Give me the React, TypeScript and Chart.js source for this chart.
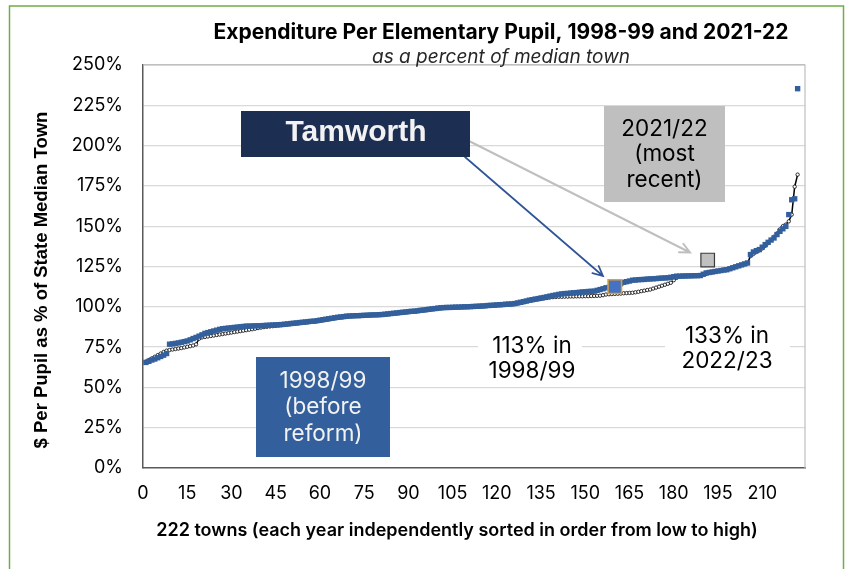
import { useEffect, useRef } from "react";
import { Chart, registerables } from "chart.js";

Chart.register(...registerables);

// 2021/22 expenditure per elementary pupil, % of state median town, towns sorted low -> high
const values2021 = [
  65.5, 66.2, 67.0, 67.6, 68.4, 69.2, 70.0, 71.0, 76.8, 77.0,
  77.3, 77.6, 78.0, 78.4, 78.8, 79.5, 80.3, 81.0, 81.8, 82.6,
  83.5, 84.0, 84.5, 85.0, 85.5, 86.0, 86.4, 86.6, 86.8, 87.0,
  87.2, 87.4, 87.6, 87.8, 88.0, 88.0, 88.1, 88.2, 88.2, 88.3,
  88.4, 88.5, 88.6, 88.7, 88.8, 88.9, 89.0, 89.2, 89.4, 89.6,
  89.8, 90.0, 90.2, 90.4, 90.6, 90.8, 91.0, 91.1, 91.4, 91.7,
  92.0, 92.3, 92.6, 92.9, 93.2, 93.5, 93.7, 93.9, 94.2, 94.3,
  94.4, 94.5, 94.5, 94.6, 94.7, 94.8, 94.9, 95.0, 95.0, 95.1,
  95.2, 95.4, 95.6, 95.8, 96.0, 96.2, 96.4, 96.6, 96.8, 97.0,
  97.2, 97.3, 97.5, 97.8, 98.0, 98.2, 98.5, 98.7, 98.9, 99.2,
  99.4, 99.5, 99.6, 99.6, 99.7, 99.8, 99.8, 99.9, 100.0, 100.0,
  100.1, 100.2, 100.3, 100.4, 100.5, 100.6, 100.8, 100.9, 101.0, 101.2,
  101.3, 101.4, 101.6, 101.7, 101.8, 102.0, 102.4, 102.8, 103.2, 103.6,
  104.1, 104.4, 104.8, 105.1, 105.5, 105.8, 106.2, 106.6, 107.0, 107.3,
  107.7, 108.0, 108.2, 108.3, 108.5, 108.7, 108.8, 109.0, 109.2, 109.3,
  109.5, 109.6, 109.7, 110.2, 110.7, 111.2, 111.8, 112.0, 112.2, 112.4,
  113.5, 114.4, 115.2, 115.6, 116.0, 116.5, 116.6, 116.8, 116.9, 117.0,
  117.2, 117.3, 117.4, 117.5, 117.7, 117.8, 117.9, 118.0, 118.3, 118.7,
  119.0, 119.0, 119.1, 119.1, 119.2, 119.2, 119.3, 119.3, 119.4, 120.2,
  121.0, 121.3, 121.6, 121.9, 122.2, 122.5, 122.8, 123.0, 123.6, 124.2,
  124.8, 125.4, 126.0, 126.6, 127.2, 132.4, 134.0, 134.8, 135.5, 137.0,
  138.6, 140.0, 141.4, 142.7, 144.8, 146.8, 148.4, 149.9, 157.2, 166.4,
  167.0, 235.3,
];

// 1998/99 (before reform)
const values1998 = [
  66.0, 67.0, 68.0, 69.0, 70.0, 71.0, 72.0, 72.8, 73.2, 73.5,
  73.8, 74.1, 74.4, 74.8, 75.2, 75.6, 76.0, 76.7, 80.2, 81.0,
  81.3, 81.6, 81.9, 82.2, 82.5, 82.8, 83.1, 83.4, 83.7, 84.0,
  84.3, 84.6, 84.9, 85.2, 85.5, 85.8, 86.1, 86.4, 86.8, 87.1,
  87.4, 87.6, 87.8, 88.0, 88.2, 88.4, 88.6, 88.8, 89.0, 89.2,
  89.4, 89.6, 89.8, 90.0, 90.2, 90.4, 90.6, 90.8, 91.0, 91.3,
  91.6, 91.9, 92.2, 92.5, 92.8, 93.1, 93.4, 93.6, 93.8, 94.0,
  94.1, 94.2, 94.3, 94.4, 94.5, 94.6, 94.7, 94.8, 94.9, 94.9,
  95.0, 95.1, 95.3, 95.5, 95.7, 95.9, 96.1, 96.3, 96.5, 96.7,
  96.9, 97.0, 97.2, 97.4, 97.7, 97.9, 98.1, 98.4, 98.6, 98.8,
  99.0, 99.2, 99.3, 99.4, 99.5, 99.6, 99.7, 99.8, 99.8, 99.9,
  100.0, 100.1, 100.1, 100.2, 100.3, 100.4, 100.5, 100.6, 100.8, 100.9,
  101.0, 101.1, 101.3, 101.4, 101.5, 101.7, 102.0, 102.4, 102.8, 103.2,
  103.6, 104.0, 104.3, 104.6, 104.9, 105.2, 105.5, 105.8, 106.0, 106.1,
  106.2, 106.2, 106.3, 106.3, 106.4, 106.4, 106.5, 106.5, 106.5, 106.6,
  106.6, 106.7, 106.7, 106.8, 106.9, 107.2, 107.6, 107.8, 107.9, 108.0,
  108.1, 108.2, 108.4, 108.5, 108.6, 108.7, 109.0, 109.3, 109.7, 110.0,
  110.4, 110.7, 111.3, 111.9, 112.5, 113.1, 113.7, 114.3, 114.9, 116.5,
  118.0, 118.8, 119.0, 119.1, 119.1, 119.2, 119.2, 119.3, 119.3, 119.8,
  120.4, 121.0, 121.4, 121.8, 122.2, 122.6, 123.0, 123.4, 123.9, 124.4,
  124.9, 125.4, 125.9, 126.4, 127.0, 131.5, 132.8, 134.0, 135.0, 136.2,
  137.8, 139.5, 141.5, 143.5, 145.5, 148.0, 150.0, 151.0, 153.0, 157.2,
  174.5, 182.0,
];

// Highlighted towns: [rank, percent]
const tamworthPoint = [160, 112.5];
const recentPoint = [191.5, 129];

const yTicks = [0, 25, 50, 75, 100, 125, 150, 175, 200, 225, 250];
const xTicks = [0, 15, 30, 45, 60, 75, 90, 105, 120, 135, 150, 165, 180, 195, 210];

const titleText = "Expenditure Per Elementary Pupil, 1998-99 and 2021-22";
const subtitleText = "as a percent of median town";
const yTitleText = "$ Per Pupil as % of State Median Town";
const xTitleText = "222 towns (each year independently sorted in order from low to high)";

const BLUE = "#33609C";

function arrow(ctx: CanvasRenderingContext2D, x1: number, y1: number, x2: number, y2: number, color: string, w: number, head: number) {
  ctx.save();
  ctx.strokeStyle = color;
  ctx.lineWidth = w;
  ctx.lineCap = "round";
  ctx.beginPath();
  ctx.moveTo(x1, y1);
  ctx.lineTo(x2, y2);
  const a = Math.atan2(y2 - y1, x2 - x1);
  const s = 0.45;
  ctx.moveTo(x2 - head * Math.cos(a - s), y2 - head * Math.sin(a - s));
  ctx.lineTo(x2, y2);
  ctx.lineTo(x2 - head * Math.cos(a + s), y2 - head * Math.sin(a + s));
  ctx.stroke();
  ctx.restore();
}

function lines(ctx: CanvasRenderingContext2D, arr: string[], cx: number, y0: number, lh: number) {
  arr.forEach((t, i) => ctx.fillText(t, cx, y0 + i * lh));
}

const decorPlugin = {
  id: "decor",
  beforeDatasetsDraw(chart: any) {
    const { ctx, chartArea } = chart;
    ctx.save();
    ctx.strokeStyle = "#BFBFBF";
    ctx.lineWidth = 1.2;
    ctx.beginPath();
    ctx.moveTo(chartArea.left, chartArea.top);
    ctx.lineTo(chartArea.right, chartArea.top);
    ctx.lineTo(chartArea.right, chartArea.bottom);
    ctx.stroke();
    // white label backgrounds covering gridlines
    ctx.fillStyle = "#FFFFFF";
    ctx.fillRect(478, 334, 104, 50);
    ctx.fillRect(665, 324, 125, 50);
    ctx.restore();
  },
  afterDatasetsDraw(chart: any) {
    const { ctx } = chart;
    ctx.save();
    ctx.textAlign = "center";
    ctx.textBaseline = "middle";

    // Titles
    ctx.fillStyle = "#000";
    ctx.font = "700 21px Inter";
    ctx.fillText(titleText, 501, 33);
    ctx.fillStyle = "#262626";
    ctx.font = "italic 19px Inter";
    ctx.fillText(subtitleText, 501, 57);

    // y title
    ctx.save();
    ctx.translate(42, 280);
    ctx.rotate(-Math.PI / 2);
    ctx.fillStyle = "#000";
    ctx.font = "bold 18.5px 'Liberation Sans'";
    ctx.fillText(yTitleText, 0, 0);
    ctx.restore();

    // x title
    ctx.fillStyle = "#000";
    ctx.font = "600 18px Inter";
    ctx.fillText(xTitleText, 457, 531);

    // arrows
    arrow(ctx, 470, 141.5, 690, 252.5, "#BFBFBF", 2, 11);
    arrow(ctx, 465, 157, 603, 276, "#2F5597", 1.7, 11);

    // Tamworth box
    ctx.fillStyle = "#1C2E52";
    ctx.fillRect(241, 111, 229, 46);
    ctx.fillStyle = "#F2F2F2";
    ctx.font = "bold 30px 'Liberation Sans'";
    ctx.fillText("Tamworth", 356, 133);

    // 2021/22 box
    ctx.fillStyle = "#BFBFBF";
    ctx.fillRect(604, 106, 121, 96);
    ctx.fillStyle = "#000";
    ctx.font = "22.5px Inter";
    lines(ctx, ["2021/22", "(most", "recent)"], 664.5, 129, 25.5);

    // 1998/99 box
    ctx.fillStyle = BLUE;
    ctx.fillRect(256, 357, 134, 100);
    ctx.fillStyle = "#F2F2F2";
    lines(ctx, ["1998/99", "(before", "reform)"], 323, 381, 26.5);

    // notes
    ctx.fillStyle = "#000";
    lines(ctx, ["113% in", "1998/99"], 532, 346, 25.5);
    lines(ctx, ["133% in", "2022/23"], 727, 336, 25.5);

    ctx.restore();
  },
  afterDraw(chart: any) {
    const { ctx } = chart;
    ctx.save();
    ctx.strokeStyle = "#70AD47";
    ctx.lineWidth = 1.5;
    ctx.beginPath();
    ctx.moveTo(9.5, 580);
    ctx.lineTo(9.5, 6);
    ctx.lineTo(843.5, 6);
    ctx.lineTo(843.5, 580);
    ctx.stroke();
    ctx.restore();
  },
};

export default function App() {
  const ref = useRef<HTMLCanvasElement>(null);
  useEffect(() => {
    document.body.style.margin = "0";
    const canvas = ref.current!;
    const chart = new Chart(canvas, {
      type: "scatter",
      data: {
        datasets: [
          {
            label: "Tamworth",
            data: [{ x: tamworthPoint[0], y: tamworthPoint[1] }],
            pointStyle: "rect",
            pointRadius: 9.6,
            pointBackgroundColor: "#4472C4",
            pointBorderColor: "#E0A030",
            pointBorderWidth: 1.5,
            order: 0,
          } as any,
          {
            label: "2021/22 marker",
            data: [{ x: recentPoint[0], y: recentPoint[1] }],
            pointStyle: "rect",
            pointRadius: 9.6,
            pointBackgroundColor: "#C0C0C0",
            pointBorderColor: "#3A3A3A",
            pointBorderWidth: 1.2,
            order: 0,
          } as any,
          {
            label: "2021/22",
            data: values2021.map((v, i) => ({ x: i + 1, y: v })),
            showLine: false,
            pointStyle: "rect",
            pointRadius: 3.8,
            pointBackgroundColor: BLUE,
            pointBorderColor: BLUE,
            pointBorderWidth: 0,
            order: 1,
          } as any,
          {
            label: "1998/99",
            data: values1998.map((v, i) => ({ x: i + 1, y: v })),
            showLine: true,
            borderColor: "#000",
            borderWidth: 1.5,
            pointStyle: "circle",
            pointRadius: 1.7,
            pointBackgroundColor: "#FFFFFF",
            pointBorderColor: "#000",
            pointBorderWidth: 0.8,
            order: 2,
          } as any,
        ],
      },
      options: {
        animation: false,
        responsive: true,
        maintainAspectRatio: false,
        layout: { padding: { top: 65, right: 43, left: 0, bottom: 0 } },
        plugins: {
          legend: { display: false },
          title: { display: false },
          tooltip: { enabled: false },
        },
        events: [],
        scales: {
          x: {
            type: "linear",
            min: 0,
            max: 224.5,
            afterBuildTicks: (scale: any) => {
              scale.ticks = xTicks.map((v) => ({ value: v }));
            },
            afterFit: (scale: any) => {
              scale.height = 101;
            },
            grid: { display: false, drawTicks: false },
            border: { display: true, color: "#595959", width: 1.5 },
            ticks: {
              padding: 15,
              maxRotation: 0,
              autoSkip: false,
              color: "#000",
              font: { family: "Inter", size: 18 },
            },
          },
          y: {
            type: "linear",
            min: 0,
            max: 250,
            afterBuildTicks: (scale: any) => {
              scale.ticks = yTicks.map((v) => ({ value: v }));
            },
            afterFit: (scale: any) => {
              scale.width = 143;
            },
            grid: {
              drawTicks: false,
              color: (c: any) => (c.tick && c.tick.value === 250 ? "#BFBFBF" : c.tick && c.tick.value === 0 ? "rgba(0,0,0,0)" : "#D9D9D9"),
              lineWidth: 1.2,
            },
            border: { display: true, color: "#595959", width: 1.5 },
            ticks: {
              padding: 20,
              color: "#000",
              font: { family: "Inter", size: 18 },
              callback: (v: any) => v + "%",
            },
          },
        },
      },
      plugins: [decorPlugin],
    });
    return () => chart.destroy();
  }, []);
  return (
    <div style={{ position: "relative", width: 848, height: 569 }}>
      <canvas ref={ref} style={{ display: "block" }} />
    </div>
  );
}
